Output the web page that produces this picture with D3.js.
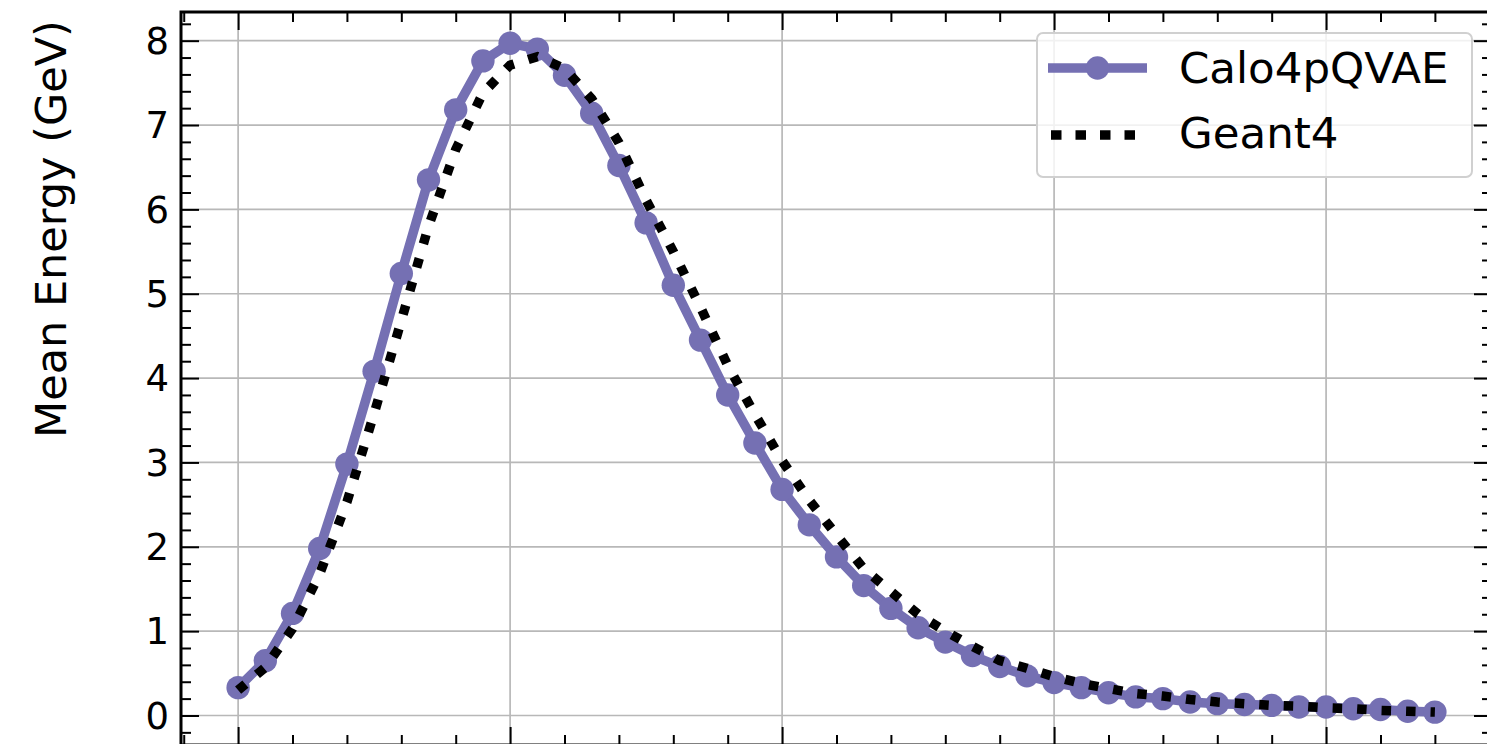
<!DOCTYPE html>
<html>
<head>
<meta charset="utf-8">
<script src="https://cdn.jsdelivr.net/npm/d3@7"></script>
<style>
  html, body { margin: 0; padding: 0; background: #ffffff; overflow: hidden; }
  svg { display: block; font-family: "DejaVu Sans", sans-serif; }
</style>
</head>
<body>
<svg id="chart" width="1487" height="744"></svg>
<script>
// Layer index (0..44) and mean deposited energy per layer, in GeV
const layerIndex = d3.range(45);
const calo4pqvae = [
  0.33, 0.65, 1.21, 1.98, 2.98, 4.08, 5.24, 6.35, 7.18, 7.76,
  7.97, 7.90, 7.59, 7.14, 6.52, 5.84, 5.10, 4.45, 3.80, 3.23,
  2.68, 2.26, 1.88, 1.54, 1.27, 1.04, 0.87, 0.71, 0.58, 0.47,
  0.39, 0.33, 0.27, 0.22, 0.20, 0.16, 0.14, 0.13, 0.12, 0.10,
  0.10, 0.08, 0.07, 0.05, 0.04
];
const geant4 = [
  0.30, 0.57, 1.03, 1.68, 2.53, 3.58, 4.68, 5.80, 6.71, 7.38,
  7.71, 7.81, 7.67, 7.31, 6.79, 6.11, 5.50, 4.84, 4.15, 3.57,
  3.02, 2.55, 2.14, 1.74, 1.47, 1.20, 1.00, 0.82, 0.65, 0.56,
  0.46, 0.38, 0.32, 0.26, 0.23, 0.19, 0.16, 0.14, 0.12, 0.11,
  0.09, 0.08, 0.06, 0.05, 0.04
];
const yTickValues = [0, 1, 2, 3, 4, 5, 6, 7, 8];
const seriesNames = ["Calo4pQVAE", "Geant4"];

const purple = "#7570b3";
const svg = d3.select("#chart");

// Plot frame (right and bottom spines sit just outside the visible page)
const plotLeft = 181, plotRight = 1492, plotTop = 12, plotBottom = 745;

const x = d3.scaleLinear().domain([-2.1, 46.1]).range([plotLeft, plotRight]);
const y = d3.scaleLinear().domain([-0.35, 8.34]).range([plotBottom, plotTop]);

// Grid
const grid = svg.append("g").attr("stroke", "#b8b8b8").attr("stroke-width", 1.7);
grid.selectAll("line.v").data(d3.range(0, 46, 10)).join("line")
  .attr("class", "v")
  .attr("x1", d => x(d)).attr("x2", d => x(d))
  .attr("y1", plotTop).attr("y2", plotBottom);
grid.selectAll("line.h").data(yTickValues).join("line")
  .attr("class", "h")
  .attr("y1", d => y(d)).attr("y2", d => y(d))
  .attr("x1", plotLeft).attr("x2", plotRight);

// Inward ticks on all four sides
const majorLen = 18, minorLen = 10;
const tickG = svg.append("g");

function addAxis(axisFn, scale, values, len, transform) {
  const ax = axisFn(scale).tickValues(values).tickSize(-len).tickSizeOuter(0).tickFormat("");
  const g = tickG.append("g").attr("transform", transform).call(ax);
  g.select(".domain").remove();
  g.selectAll(".tick line").attr("stroke", "#000").attr("stroke-width", 2);
}

const xMajor = d3.range(0, 46, 10);
const xMinor = d3.range(-2, 47, 2).filter(v => v % 10 !== 0);
const yMajor = yTickValues;
const yMinor = d3.range(-2, 84, 2).map(v => v / 10).filter(v => Math.abs(v - Math.round(v)) > 1e-6);

addAxis(d3.axisBottom, x, xMajor, majorLen, `translate(0,${plotBottom})`);
addAxis(d3.axisBottom, x, xMinor, minorLen, `translate(0,${plotBottom})`);
addAxis(d3.axisTop, x, xMajor, majorLen, `translate(0,${plotTop})`);
addAxis(d3.axisTop, x, xMinor, minorLen, `translate(0,${plotTop})`);
addAxis(d3.axisLeft, y, yMajor, majorLen, `translate(${plotLeft},0)`);
addAxis(d3.axisLeft, y, yMinor, minorLen, `translate(${plotLeft},0)`);
addAxis(d3.axisRight, y, yMajor, majorLen, `translate(${plotRight},0)`);
addAxis(d3.axisRight, y, yMinor, minorLen, `translate(${plotRight},0)`);

// Y tick labels
svg.append("g").selectAll("text").data(yTickValues).join("text")
  .attr("x", plotLeft - 12)
  .attr("y", d => y(d))
  .attr("dy", "0.36em")
  .attr("text-anchor", "end")
  .attr("font-size", 37)
  .attr("fill", "#000")
  .text(d => d);

// Y axis title
svg.append("text")
  .attr("transform", "translate(66,229) rotate(-90)")
  .attr("text-anchor", "middle")
  .attr("font-size", 43)
  .attr("fill", "#000")
  .text("Mean Energy (GeV)");

// Series
const line = d3.line().x((d, i) => x(layerIndex[i])).y(d => y(d));

svg.append("path")
  .datum(calo4pqvae)
  .attr("fill", "none")
  .attr("stroke", purple)
  .attr("stroke-width", 9.5)
  .attr("stroke-linejoin", "round")
  .attr("d", line);

svg.append("g").selectAll("circle").data(calo4pqvae).join("circle")
  .attr("cx", (d, i) => x(layerIndex[i]))
  .attr("cy", d => y(d))
  .attr("r", 11.7)
  .attr("fill", purple);

svg.append("path")
  .datum(geant4)
  .attr("fill", "none")
  .attr("stroke", "#000")
  .attr("stroke-width", 9.5)
  .attr("stroke-dasharray", "9.5,15")
  .attr("stroke-linecap", "butt")
  .attr("d", line);

// Spines
svg.append("rect")
  .attr("x", plotLeft).attr("y", plotTop)
  .attr("width", plotRight - plotLeft).attr("height", plotBottom - plotTop)
  .attr("fill", "none").attr("stroke", "#000").attr("stroke-width", 3);

// Legend
const lg = svg.append("g");
lg.append("rect")
  .attr("x", 1037).attr("y", 33)
  .attr("width", 435).attr("height", 144)
  .attr("rx", 6)
  .attr("fill", "#ffffff").attr("fill-opacity", 0.8)
  .attr("stroke", "#d0d0d0").attr("stroke-width", 2);

lg.append("line")
  .attr("x1", 1048).attr("x2", 1147).attr("y1", 68).attr("y2", 68)
  .attr("stroke", purple).attr("stroke-width", 9.5);
lg.append("circle")
  .attr("cx", 1097.5).attr("cy", 68).attr("r", 11.7).attr("fill", purple);
lg.append("line")
  .attr("x1", 1051).attr("x2", 1147).attr("y1", 135).attr("y2", 135)
  .attr("stroke", "#000").attr("stroke-width", 9.5)
  .attr("stroke-dasharray", "10.5,14");

lg.selectAll("text").data(seriesNames).join("text")
  .attr("x", 1179)
  .attr("y", (d, i) => 83 + i * 65)
  .attr("font-size", 43.5)
  .attr("fill", "#000")
  .text(d => d);
</script>
</body>
</html>
